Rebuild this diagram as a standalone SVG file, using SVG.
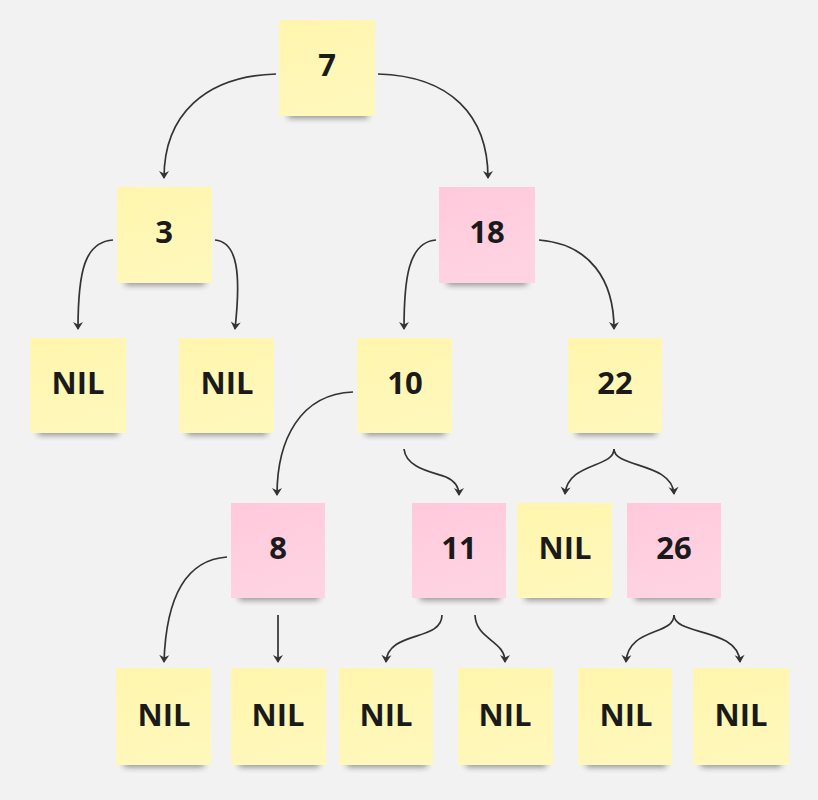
<svg xmlns="http://www.w3.org/2000/svg" width="818" height="800" viewBox="0 0 818 800">
<defs>
<style>
.y{fill:url(#gy)}
.p{fill:url(#gp)}
.sh{fill:#000;opacity:0.42;filter:url(#blur)}
.t{font-family:"Open Sans","Noto Sans","Liberation Sans",sans-serif;font-weight:700;font-size:31px;fill:#1a1a1a;text-anchor:middle;dominant-baseline:central}
</style>
<linearGradient id="gy" x1="0" y1="0" x2="0.3" y2="1">
<stop offset="0" stop-color="#fff5ad"/><stop offset="1" stop-color="#fff8bb"/>
</linearGradient>
<linearGradient id="gp" x1="0" y1="0" x2="0.3" y2="1">
<stop offset="0" stop-color="#ffc9dc"/><stop offset="1" stop-color="#ffd3e2"/>
</linearGradient>
<filter id="blur" x="-20%" y="-50%" width="140%" height="200%"><feGaussianBlur stdDeviation="3"/></filter>
<marker id="a" viewBox="-8 -6 10 12" refX="0" refY="0" markerWidth="10" markerHeight="12" markerUnits="userSpaceOnUse" orient="auto">
<path d="M1,0 L-7,-5 L-4.5,0 L-7,5 Z" fill="#333"/>
</marker>
</defs>
<rect width="818" height="800" fill="#f2f2f2"/>
<g id="connectors" fill="none" stroke="#333" stroke-width="1.7">
<path d="M276,74 C205,76 164,115 164,178" marker-end="url(#a)"/>
<path d="M378,74 C450,76 488,115 488,178" marker-end="url(#a)"/>
<path d="M113,240 C85,242 78,270 78,329" marker-end="url(#a)"/>
<path d="M215,240 C238,242 241,275 235,329" marker-end="url(#a)"/>
<path d="M436,240 C408,242 404,280 404,329" marker-end="url(#a)"/>
<path d="M539,240 C590,244 614,280 614,329" marker-end="url(#a)"/>
<path d="M353,392 C300,394 277,440 277,495" marker-end="url(#a)"/>
<path d="M404,449 C406,468 432,472 446,477 C455,481 459,487 459,495" marker-end="url(#a)"/>
<path d="M614,449 C614,468 568,462 565,494" marker-end="url(#a)"/>
<path d="M614,449 C614,468 672,462 674,494" marker-end="url(#a)"/>
<path d="M227,557 C184,560 166,600 164,662" marker-end="url(#a)"/>
<path d="M278,615 L278,662" marker-end="url(#a)"/>
<path d="M442,615 C442,642 388,630 386,662" marker-end="url(#a)"/>
<path d="M475,615 C476,640 505,640 505,662" marker-end="url(#a)"/>
<path d="M674,615 C674,636 628,627 626,662" marker-end="url(#a)"/>
<path d="M674,615 C674,636 738,627 740,662" marker-end="url(#a)"/>
</g>
<g id="n7"><rect class="sh" x="288" y="106" width="80" height="12"/><rect class="y" x="279" y="20" width="96" height="96"/><text class="t" x="327" y="64">7</text></g>
<g id="n3"><rect class="sh" x="125" y="273" width="80" height="12"/><rect class="y" x="117" y="187" width="95" height="96"/><text class="t" x="164" y="231">3</text></g>
<g id="n18"><rect class="sh" x="447" y="273" width="80" height="12"/><rect class="p" x="439" y="187" width="96" height="96"/><text class="t" x="487" y="231">18</text></g>
<g id="nil1"><rect class="sh" x="38" y="423" width="80" height="12"/><rect class="y" x="30" y="338" width="96" height="95"/><text class="t" x="78" y="382">NIL</text></g>
<g id="nil2"><rect class="sh" x="187" y="423" width="80" height="12"/><rect class="y" x="179" y="338" width="95" height="95"/><text class="t" x="227" y="382">NIL</text></g>
<g id="n10"><rect class="sh" x="365" y="423" width="80" height="12"/><rect class="y" x="357" y="338" width="95" height="95"/><text class="t" x="405" y="382">10</text></g>
<g id="n22"><rect class="sh" x="576" y="423" width="80" height="12"/><rect class="y" x="568" y="338" width="94" height="95"/><text class="t" x="615" y="382">22</text></g>
<g id="n8"><rect class="sh" x="239" y="588" width="80" height="12"/><rect class="p" x="231" y="503" width="94" height="95"/><text class="t" x="278" y="547">8</text></g>
<g id="n11"><rect class="sh" x="420" y="588" width="80" height="12"/><rect class="p" x="412" y="503" width="94" height="95"/><text class="t" x="459" y="547">11</text></g>
<g id="nil3"><rect class="sh" x="525" y="588" width="80" height="12"/><rect class="y" x="517" y="503" width="95" height="95"/><text class="t" x="565" y="547">NIL</text></g>
<g id="n26"><rect class="sh" x="635" y="588" width="80" height="12"/><rect class="p" x="627" y="503" width="94" height="95"/><text class="t" x="674" y="547">26</text></g>
<g id="nil4"><rect class="sh" x="124" y="755" width="80" height="12"/><rect class="y" x="116" y="668" width="95" height="97"/><text class="t" x="164" y="714">NIL</text></g>
<g id="nil5"><rect class="sh" x="239" y="755" width="80" height="12"/><rect class="y" x="231" y="668" width="95" height="97"/><text class="t" x="278" y="714">NIL</text></g>
<g id="nil6"><rect class="sh" x="347" y="755" width="80" height="12"/><rect class="y" x="339" y="668" width="94" height="97"/><text class="t" x="386" y="714">NIL</text></g>
<g id="nil7"><rect class="sh" x="466" y="755" width="80" height="12"/><rect class="y" x="458" y="668" width="95" height="97"/><text class="t" x="505" y="714">NIL</text></g>
<g id="nil8"><rect class="sh" x="586" y="755" width="80" height="12"/><rect class="y" x="578" y="668" width="94" height="97"/><text class="t" x="626" y="714">NIL</text></g>
<g id="nil9"><rect class="sh" x="701" y="755" width="80" height="12"/><rect class="y" x="693" y="668" width="96" height="97"/><text class="t" x="741" y="714">NIL</text></g>
</svg>
